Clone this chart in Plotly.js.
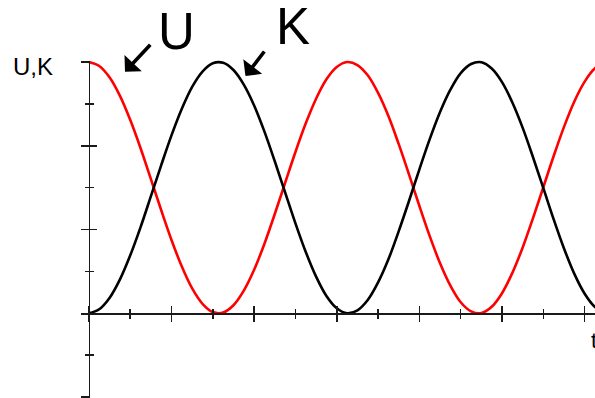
<!DOCTYPE html>
<html>
<head>
<meta charset="utf-8">
<script src="https://cdn.plot.ly/plotly-3.0.1.min.js"></script>
<style>html,body{margin:0;padding:0;background:#fff;}#chart{width:595px;height:398px;}</style>
</head>
<body>
<div id="chart"></div>
<script>
// time samples (one unit = one small tick on the time axis)
const tValues = [0, 0.25, 0.5, 0.75, 1, 1.25, 1.5, 1.75, 2, 2.25, 2.5, 2.75, 3, 3.25, 3.5, 3.75,
  4, 4.25, 4.5, 4.75, 5, 5.25, 5.5, 5.75, 6, 6.25, 6.5, 6.75, 7, 7.25, 7.5, 7.75,
  8, 8.25, 8.5, 8.75, 9, 9.25, 9.5, 9.75, 10, 10.25, 10.5, 10.75, 11, 11.25, 11.5, 11.75,
  12, 12.25, 12.5];
// potential energy U (red)
const uValues = [1.000, 0.984, 0.939, 0.866, 0.770, 0.658, 0.535, 0.411, 0.292, 0.186, 0.099, 0.038, 0.005, 0.003, 0.032, 0.090,
  0.173, 0.277, 0.395, 0.519, 0.642, 0.756, 0.854, 0.931, 0.980, 1.000, 0.988, 0.947, 0.877, 0.785, 0.673, 0.552,
  0.427, 0.307, 0.199, 0.110, 0.044, 0.008, 0.001, 0.026, 0.080, 0.161, 0.262, 0.379, 0.502, 0.626, 0.742, 0.843,
  0.922, 0.975, 0.999];
// kinetic energy K (black)
const kValues = [0.000, 0.016, 0.061, 0.134, 0.230, 0.342, 0.465, 0.589, 0.708, 0.814, 0.901, 0.962, 0.995, 0.997, 0.968, 0.910,
  0.827, 0.723, 0.605, 0.481, 0.358, 0.244, 0.146, 0.069, 0.020, 0.000, 0.012, 0.053, 0.123, 0.215, 0.327, 0.448,
  0.573, 0.693, 0.801, 0.890, 0.956, 0.992, 0.999, 0.974, 0.920, 0.839, 0.738, 0.621, 0.498, 0.374, 0.258, 0.157,
  0.078, 0.025, 0.001];
const emptyX = [];
const emptyY = [];

const axisColor = '#1a1a1a';
const font = 'Liberation Sans, Arial, sans-serif';

const traces = [
  {x: tValues, y: uValues, xaxis: 'x', yaxis: 'y', mode: 'lines', name: 'U',
   line: {color: '#ff0000', width: 2.6, shape: 'spline'}, hoverinfo: 'skip'},
  {x: tValues, y: kValues, xaxis: 'x', yaxis: 'y', mode: 'lines', name: 'K',
   line: {color: '#000000', width: 2.6, shape: 'spline'}, hoverinfo: 'skip'},
  {x: emptyX, y: emptyY, xaxis: 'x', yaxis: 'y2', mode: 'lines', hoverinfo: 'skip'},
  {x: emptyX, y: emptyY, xaxis: 'x', yaxis: 'y3', mode: 'lines', hoverinfo: 'skip'},
  {x: emptyX, y: emptyY, xaxis: 'x2', yaxis: 'y', mode: 'lines', hoverinfo: 'skip'}
];

const xRange = [-0.19, 12.25];
const xPos = 0.2128;
const yPos = 0.01527;

const layout = {
  width: 595, height: 398,
  margin: {l: 81, r: 0, t: 0, b: 0, pad: 0},
  paper_bgcolor: '#fff', plot_bgcolor: 'rgba(0,0,0,0)',
  showlegend: false,
  font: {family: font, color: '#000'},
  xaxis: {range: xRange, domain: [0, 1], anchor: 'free', position: xPos,
    showline: true, linecolor: axisColor, linewidth: 1.5,
    ticks: 'outside', ticklen: 7, tickwidth: 1.5, tickcolor: axisColor,
    tick0: 0, dtick: 2, showticklabels: false, showgrid: false, zeroline: false,
    minor: {ticks: 'outside', ticklen: 4, tickwidth: 1.5, tickcolor: axisColor, tick0: 0, dtick: 1, showgrid: false}},
  xaxis2: {range: xRange, overlaying: 'x', anchor: 'free', position: xPos,
    showline: false, ticks: 'inside', ticklen: 7, tickwidth: 1.5, tickcolor: axisColor,
    tick0: 0, dtick: 2, showticklabels: false, showgrid: false, zeroline: false,
    minor: {ticks: 'inside', ticklen: 4, tickwidth: 1.5, tickcolor: axisColor, tick0: 0, dtick: 1, showgrid: false}},
  yaxis: {range: [-0.337, 1.2467], domain: [0, 1], visible: false, anchor: 'x'},
  yaxis2: {range: [-0.337, 1.002], domain: [0, 0.8455], anchor: 'free', position: yPos,
    showline: true, linecolor: axisColor, linewidth: 1.5,
    ticks: 'outside', ticklen: 7.5, tickwidth: 1.5, tickcolor: axisColor,
    tick0: 0, dtick: 1/3, showticklabels: false, showgrid: false, zeroline: false,
    minor: {ticks: 'outside', ticklen: 4, tickwidth: 1.5, tickcolor: axisColor, tick0: 0, dtick: 1/6, showgrid: false}},
  yaxis3: {range: [-0.337, 1.002], overlaying: 'y2', anchor: 'free', position: yPos,
    showline: false, ticks: 'inside', ticklen: 7.5, tickwidth: 1.5, tickcolor: axisColor,
    tick0: 0, dtick: 1/3, showticklabels: false, showgrid: false, zeroline: false,
    minor: {ticks: 'inside', ticklen: 4, tickwidth: 1.5, tickcolor: axisColor, tick0: 0, dtick: 1/6, showgrid: false}},
  annotations: [
    {text: 'U,K', xref: 'paper', yref: 'paper', x: -0.0934, y: 0.8317, xanchor: 'center', yanchor: 'middle',
     showarrow: false, font: {size: 24, family: font, color: '#000'}},
    {text: 'U', xref: 'paper', yref: 'paper', x: 0.1862, y: 0.9204, xanchor: 'center', yanchor: 'middle',
     showarrow: false, font: {size: 51, family: font, color: '#000'}},
    {text: 'K', xref: 'paper', yref: 'paper', x: 0.4115, y: 0.9329, xanchor: 'center', yanchor: 'middle',
     showarrow: false, font: {size: 51, family: font, color: '#000'}},
    {text: '', xref: 'paper', yref: 'paper', x: 0.0856, y: 0.8198, ax: 26.7, ay: -28.4,
     showarrow: true, arrowhead: 1, arrowsize: 1.1, arrowwidth: 3.6, arrowcolor: '#000', standoff: 0},
    {text: '', xref: 'paper', yref: 'paper', x: 0.3200, y: 0.8090, ax: 20, ay: -26,
     showarrow: true, arrowhead: 1, arrowsize: 1.1, arrowwidth: 3.6, arrowcolor: '#000', standoff: 0},
    {text: 't', xref: 'paper', yref: 'paper', x: 0.9883, y: 0.1457, xanchor: 'left', yanchor: 'middle',
     showarrow: false, font: {size: 22, family: font, color: '#000'}}
  ]
};

Plotly.newPlot('chart', traces, layout, {staticPlot: true, displayModeBar: false});
</script>
</body>
</html>
